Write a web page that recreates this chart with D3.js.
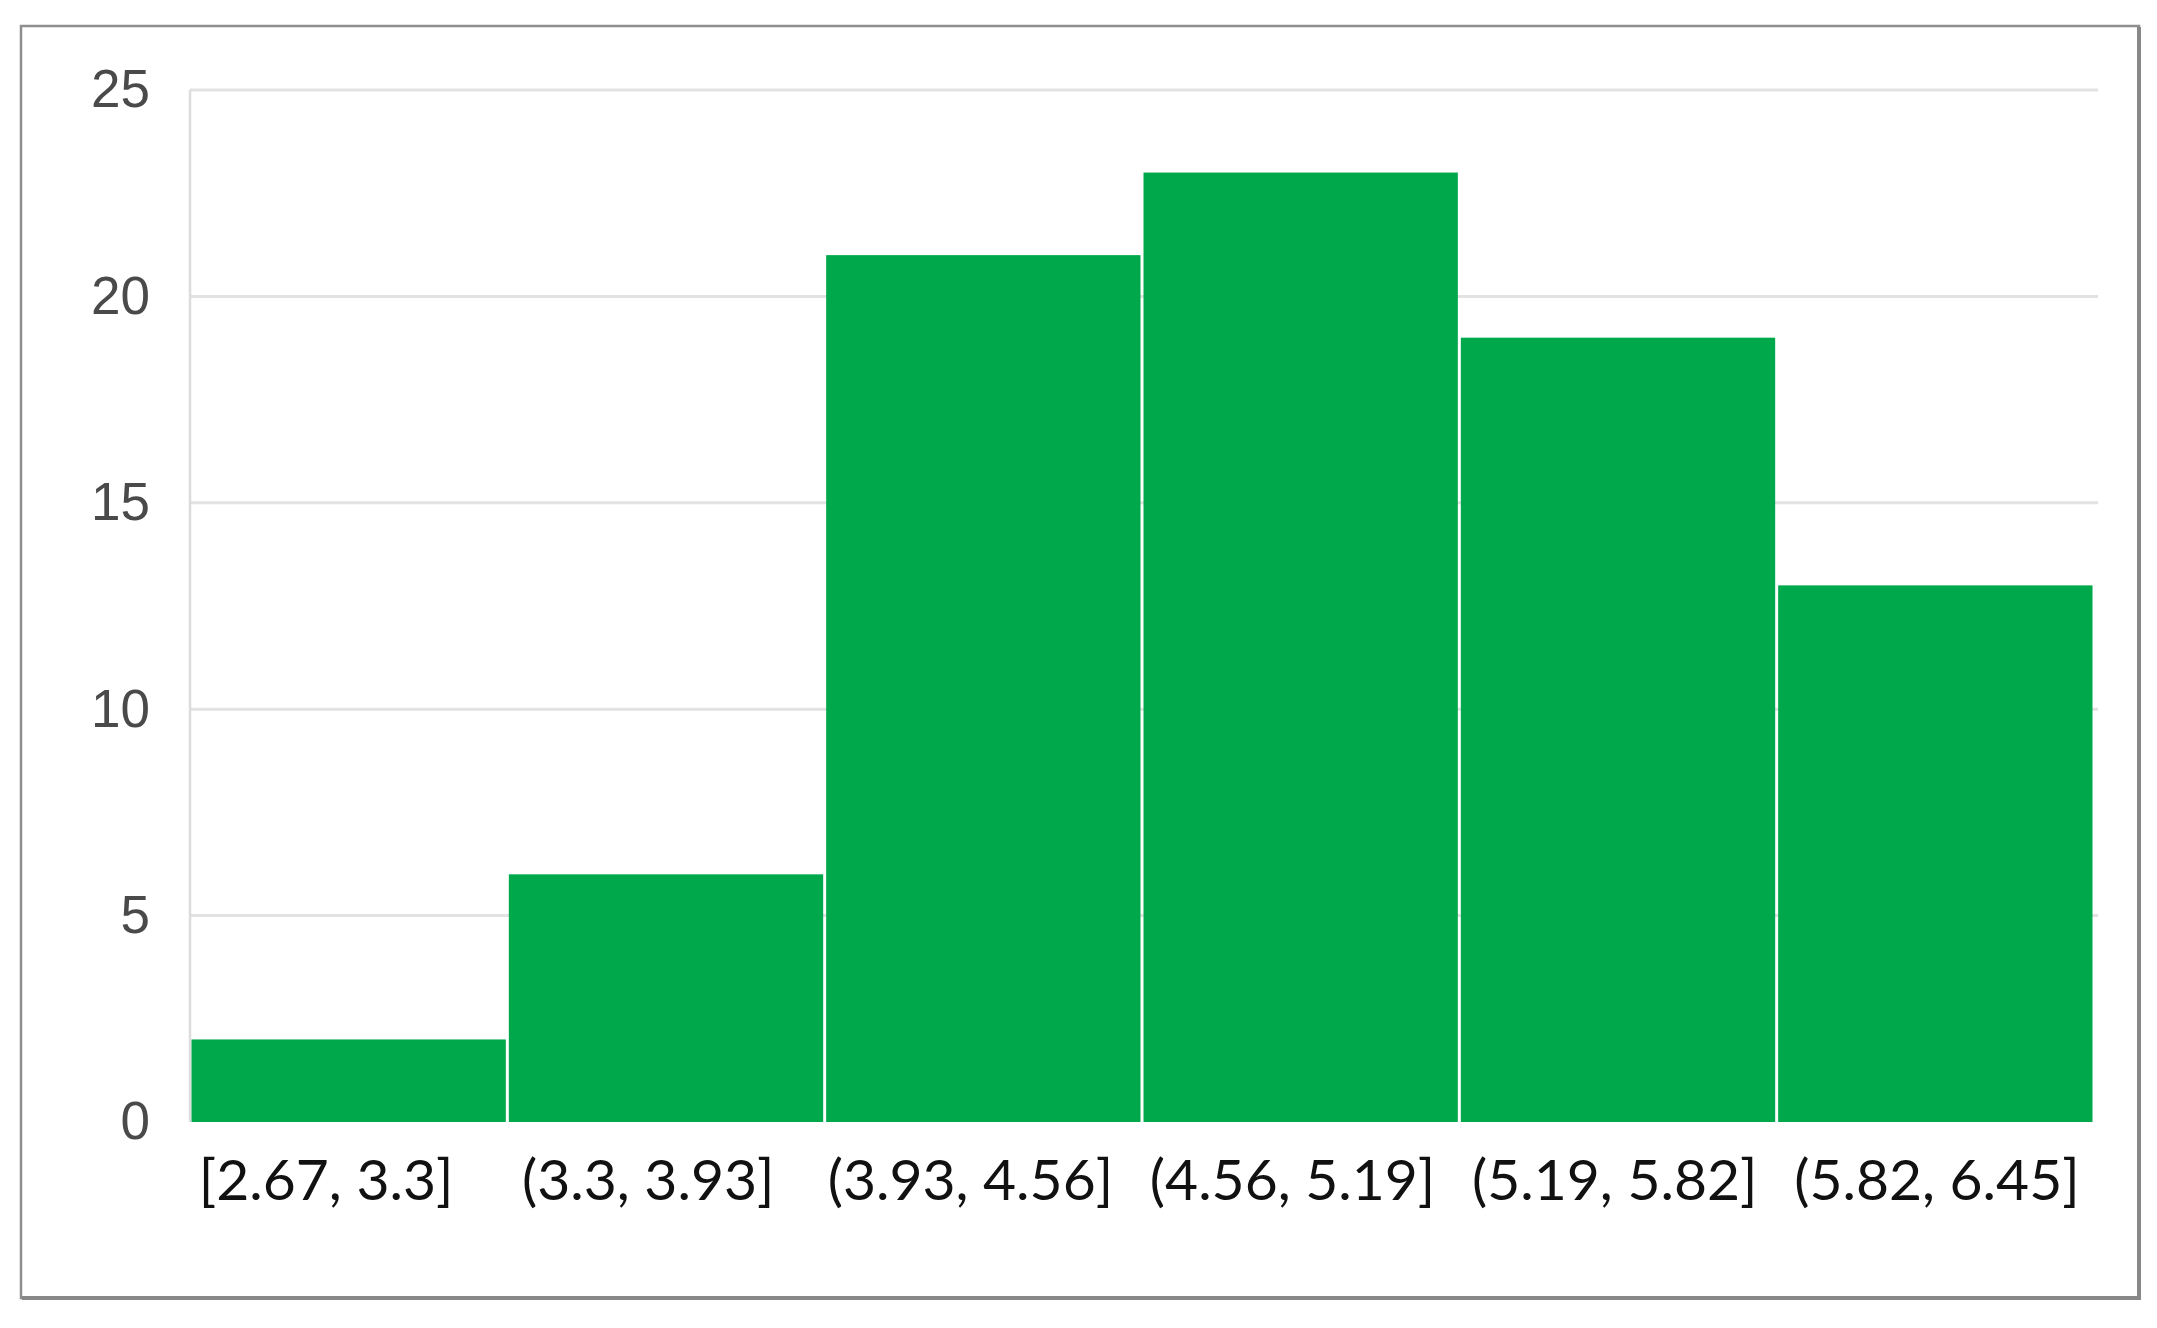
<!DOCTYPE html>
<html>
<head>
<meta charset="utf-8">
<script src="https://d3js.org/d3.v7.min.js"></script>
<style>
  body { margin: 0; background: #fff; }
  svg { display: block; }
</style>
</head>
<body>
<script type="text/javascript">

// bins and counts
var binLabels = ["[2.67, 3.3]", "(3.3, 3.93]", "(3.93, 4.56]", "(4.56, 5.19]", "(5.19, 5.82]", "(5.82, 6.45]"];
var counts = [2, 6, 21, 23, 19, 13];
var yTicks = [0, 5, 10, 15, 20, 25];

var W = 2157, H = 1328;
var plot = {left: 190, right: 2094, top: 90, bottom: 1122};

var svg = d3.select("body").append("svg")
    .attr("width", W)
    .attr("height", H);

svg.append("rect")
    .attr("width", W).attr("height", H)
    .attr("fill", "#fff");

// frame round the whole chart
svg.append("rect")
    .attr("x", 21).attr("y", 26)
    .attr("width", 2118).attr("height", 1272)
    .attr("fill", "#fff")
    .attr("stroke", "#8e8e8e")
    .attr("stroke-width", 2.5);
svg.append("path")
    .attr("d", "M2139,27 V1298 H22")
    .attr("fill", "none")
    .attr("stroke", "#888")
    .attr("stroke-width", 4);

var x = d3.scaleBand()
    .domain(binLabels)
    .range([plot.left, plot.right])
    .padding(0);

// the text row sits a bit left of the bars in the original
var xLab = d3.scaleBand()
    .domain(binLabels)
    .range([165, 2098]);

var y = d3.scaleLinear()
    .domain([0, 25])
    .range([plot.bottom, plot.top]);

// gridlines
svg.append("g")
    .selectAll("line")
    .data(yTicks.filter(function(d) { return d > 0; }))
    .enter().append("line")
    .attr("x1", plot.left).attr("x2", 2098)
    .attr("y1", function(d) { return y(d); })
    .attr("y2", function(d) { return y(d); })
    .attr("stroke", "#e2e2e2")
    .attr("stroke-width", 3);

// left axis line
svg.append("line")
    .attr("x1", plot.left).attr("x2", plot.left)
    .attr("y1", plot.top).attr("y2", plot.bottom)
    .attr("stroke", "#dcdcdc")
    .attr("stroke-width", 2.5);

// bars
svg.append("g")
    .selectAll("rect")
    .data(counts)
    .enter().append("rect")
    .attr("x", function(d, i) { return x(binLabels[i]) + 1.5; })
    .attr("width", x.bandwidth() - 3)
    .attr("y", function(d) { return y(d); })
    .attr("height", function(d) { return y(0) - y(d); })
    .attr("fill", "#00a84c");

// y axis labels
var yAxis = svg.append("g")
    .attr("transform", "translate(150,0)")
    .call(d3.axisLeft(y).tickValues(yTicks).tickSize(0).tickPadding(0));
yAxis.select(".domain").remove();
yAxis.selectAll("text")
    .attr("font-family", "'Liberation Sans', Arial, sans-serif")
    .attr("font-size", 53)
    .attr("fill", "#4a4a4a");

// x axis labels
var xAxis = svg.append("g")
    .attr("transform", "translate(0,1160)")
    .call(d3.axisBottom(xLab).tickSize(0).tickPadding(0));
xAxis.select(".domain").remove();
xAxis.selectAll("text")
    .attr("font-family", "Lato, 'Open Sans', sans-serif")
    .attr("font-size", 57)
    .attr("fill", "#111");

</script>
</body>
</html>
